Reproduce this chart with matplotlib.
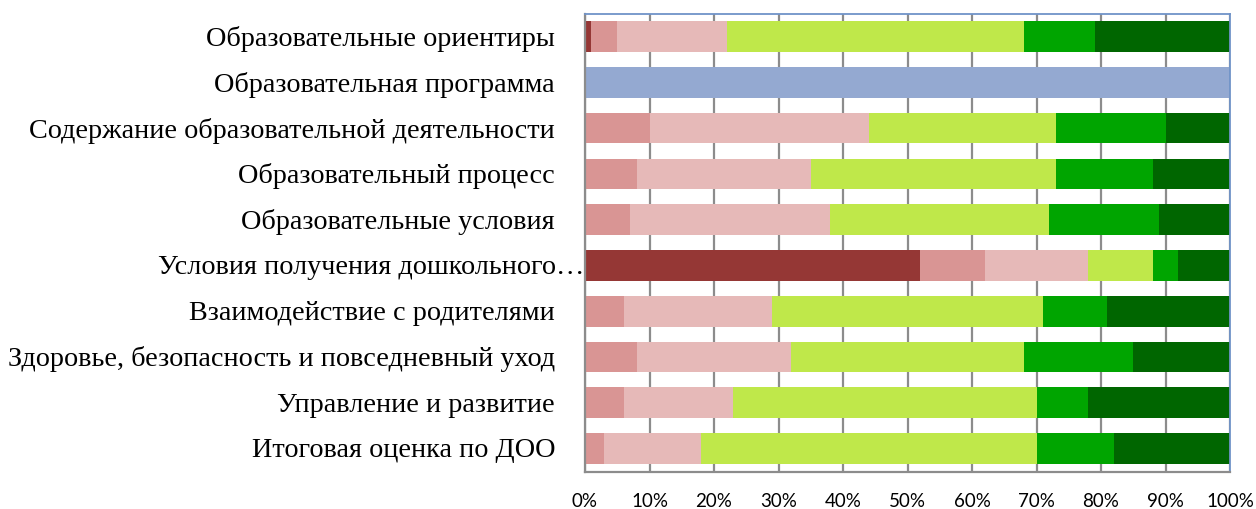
import matplotlib
matplotlib.use("Agg")
import matplotlib.pyplot as plt
import numpy as np

categories = [
    "Образовательные ориентиры",
    "Образовательная программа",
    "Содержание образовательной деятельности",
    "Образовательный процесс",
    "Образовательные условия",
    "Условия получения дошкольного…",
    "Взаимодействие с родителями",
    "Здоровье, безопасность и повседневный уход",
    "Управление и развитие",
    "Итоговая оценка по ДОО",
]

s1 = [1, 0, 0, 0, 0, 52, 0, 0, 0, 0]
s2 = [4, 0, 10, 8, 7, 10, 6, 8, 6, 3]
s3 = [17, 0, 34, 27, 31, 16, 23, 24, 17, 15]
s4 = [46, 0, 29, 38, 34, 10, 42, 36, 47, 52]
s5 = [11, 0, 17, 15, 17, 4, 10, 17, 8, 12]
s6 = [21, 0, 10, 12, 11, 8, 19, 15, 22, 18]
s7 = [0, 100, 0, 0, 0, 0, 0, 0, 0, 0]

series = [s1, s2, s3, s4, s5, s6, s7]
colors = ["#953735", "#D99594", "#E6B9B8", "#BFE84A", "#00A500", "#006600", "#94A9D1"]

xticks = [0, 10, 20, 30, 40, 50, 60, 70, 80, 90, 100]
xticklabels = [f"{v}%" for v in xticks]

fig = plt.figure(figsize=(12.56, 5.10), dpi=100)
ax = fig.add_axes([585/1256, 1-472.5/510, 645/1256, (472.5-14.7)/510])

y = np.arange(len(categories))
left = np.zeros(len(categories))
for vals, c in zip(series, colors):
    vals = np.array(vals, dtype=float)
    ax.barh(y, vals, left=left, height=0.67, color=c, edgecolor="none", zorder=2)
    left += vals

ax.set_xlim(0, 100)
ax.set_ylim(len(categories)-0.5, -0.5)
ax.set_xticks(xticks)
ax.set_xticklabels(xticklabels, fontfamily="Lato", fontsize=13.5)
ax.tick_params(axis="x", length=0, pad=15)
ax.set_yticks([])
ax.xaxis.grid(True, color="#8C8C8C", linewidth=1.6, zorder=0)
ax.set_axisbelow(True)

for side in ["left", "bottom"]:
    ax.spines[side].set_color("#8C8C8C")
    ax.spines[side].set_linewidth(1.6)
for side in ["top", "right"]:
    ax.spines[side].set_color("#7093C8")
    ax.spines[side].set_linewidth(1.3)

trans = matplotlib.transforms.blended_transform_factory(ax.transAxes, ax.transData)
for i, lab in enumerate(categories):
    xpos = -0.0465
    if lab.endswith("…"):
        xpos = -0.001
    ax.text(xpos, i + 0.03, lab, transform=trans, ha="right", va="center",
            fontfamily="Liberation Serif", fontsize=20.3, color="black")

fig.savefig("out.png", dpi=100)
